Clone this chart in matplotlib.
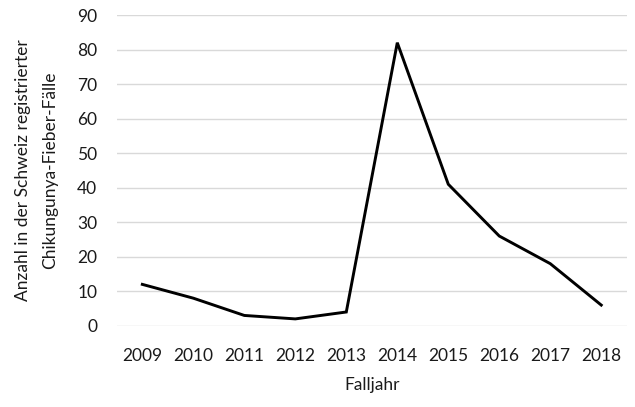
import matplotlib
matplotlib.use("Agg")
import matplotlib.pyplot as plt

years = ["2009", "2010", "2011", "2012", "2013", "2014", "2015", "2016", "2017", "2018"]
cases = [12, 8, 3, 2, 4, 82, 41, 26, 18, 6]
yticks = [0, 10, 20, 30, 40, 50, 60, 70, 80, 90]

plt.rcParams['font.family'] = ['Lato', 'DejaVu Sans']

fig = plt.figure(figsize=(6.35, 4.07), dpi=100)
ax = fig.add_axes([0.184, 0.1995, 0.803, 0.7635])

x = list(range(len(years)))
ax.plot(x, cases, color="black", linewidth=2.1, solid_joinstyle="miter", zorder=3)

ax.set_xlim(-0.5, len(years) - 0.5)
ax.set_ylim(0, 90)
ax.set_yticks(yticks)
ax.set_xticks(x)
ax.set_xticklabels(years)
ax.grid(axis="y", color="#d9d9d9", linewidth=1.0)
ax.set_axisbelow(True)
for s in ax.spines.values():
    s.set_visible(False)
ax.tick_params(axis="both", length=0, labelsize=12.5, colors="#1a1a1a")
ax.tick_params(axis="y", pad=14)
ax.tick_params(axis="x", pad=16)

ax.set_xlabel("Falljahr", fontsize=12.5, color="#1a1a1a", labelpad=9)
ax.set_ylabel("Anzahl in der Schweiz registrierter\nChikungunya-Fieber-Fälle", fontsize=12.5,
              color="#1a1a1a", labelpad=14, linespacing=1.8, multialignment="center")

fig.savefig("out.png", dpi=100)
